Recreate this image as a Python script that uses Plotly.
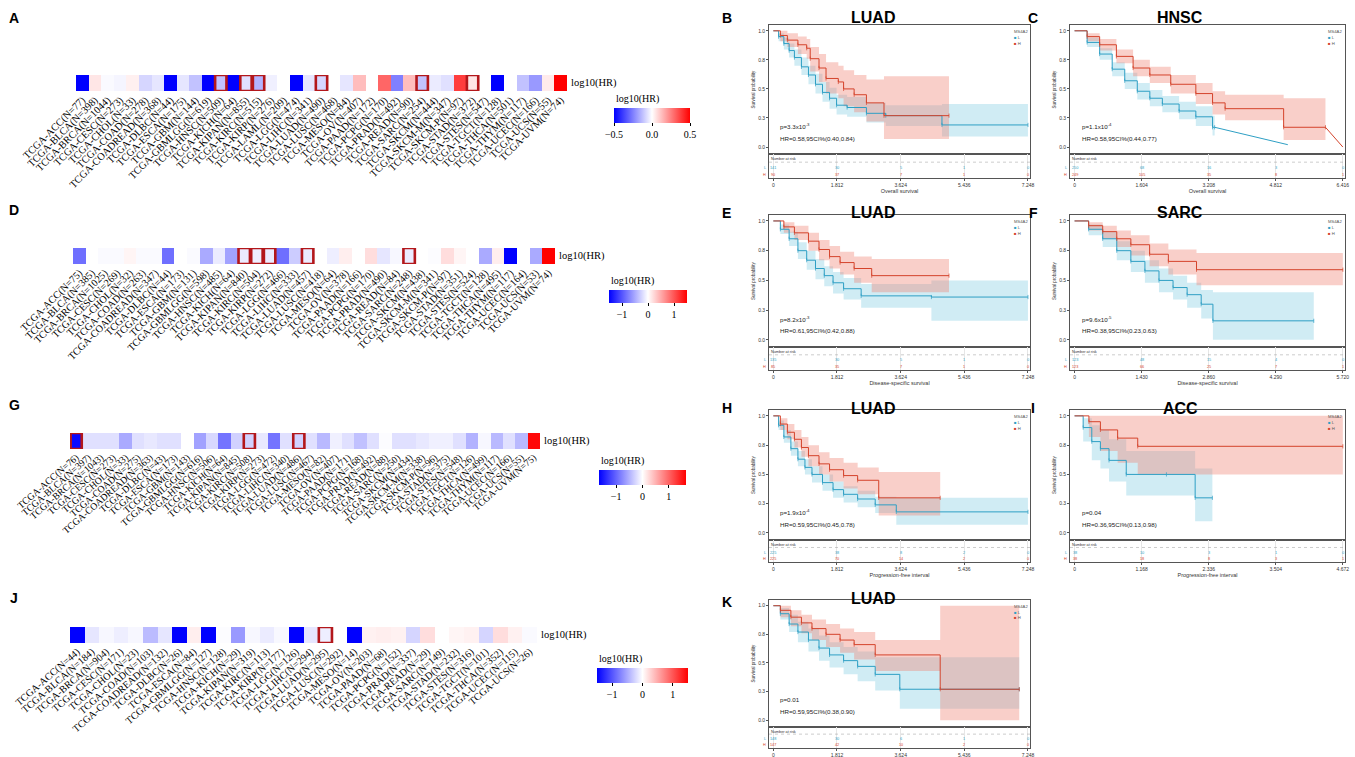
import plotly.graph_objects as go

W, H = 1355, 757

# ---------------- Heatmap data (log10 HR per cancer) ----------------
A_cancers = ["ACC","BLCA","BRCA","CESC","CHOL","COAD","COADREAD","DLBC","ESCA","GBM","GBMLGG","HNSC","KICH","KIPAN","KIRC","KIRP","LAML","LGG","LIHC","LUAD","LUSC","MESO","OV","PAAD","PCPG","PRAD","READ","SARC","SKCM","SKCM-M","SKCM-P","STAD","STES","TGCT","THCA","THYM","UCEC","UCS","UVM"]
A_n = [77,398,1044,273,33,278,368,44,175,144,619,509,64,855,515,276,209,474,341,490,468,84,407,172,170,492,90,254,444,347,97,372,547,128,501,117,166,55,74]
A_log10hr = [-0.5,0.05,-0.01,-0.02,0.03,-0.08,-0.05,-0.5,-0.05,-0.12,-0.5,-0.12,-0.5,-0.06,-0.15,-0.03,0.0,-0.5,-0.05,-0.08,0.0,-0.05,0.13,0.0,0.3,-0.25,0.13,-0.12,-0.04,-0.06,0.38,0.05,0.0,-0.5,0.0,-0.12,-0.2,0.04,0.5]
A_sig = ["HNSC","KIPAN","KIRC","LUAD","SARC","STAD"]

D_cancers = ["ACC","BLCA","BRCA","CESC","CHOL","COAD","COADREAD","DLBC","ESCA","GBM","GBMLGG","HNSC","KICH","KIPAN","KIRC","KIRP","LGG","LIHC","LUAD","LUSC","MESO","OV","PAAD","PCPG","PRAD","READ","SARC","SKCM","SKCM-M","SKCM-P","STAD","STES","TGCT","THCA","THYM","UCEC","UCS","UVM"]
D_n = [75,385,1025,269,32,263,347,44,173,131,598,485,64,840,504,272,466,333,457,418,64,378,166,170,490,84,248,438,341,97,351,524,128,495,117,164,53,74]
D_log10hr = [-0.85,0.0,-0.03,-0.03,0.06,-0.03,-0.03,-0.85,0.0,-0.03,-0.5,-0.12,-0.55,-0.12,-0.1,-0.12,-0.85,-0.3,-0.12,0.0,-0.1,0.1,0.0,0.2,-0.15,-0.05,-0.12,0.0,-0.02,0.2,0.06,0.0,-0.5,0.1,-1.5,0.0,-0.5,1.5]
D_sig = ["KIPAN","KIRC","KIRP","LUAD","SARC"]

G_cancers = list(D_cancers)
G_n = [76,397,1043,273,33,275,363,43,173,143,616,506,64,845,508,273,472,340,486,467,82,407,171,168,492,88,250,434,338,96,375,548,126,499,117,166,55,75]
G_log10hr = [-1.6,-0.2,-0.2,-0.2,-0.55,-0.2,-0.15,-0.2,-0.2,0.0,-0.6,-0.25,-0.9,-0.3,-0.3,-0.15,-0.9,-0.2,-0.3,-0.2,-0.45,-0.1,-0.2,-0.4,-0.2,-0.02,-0.2,-0.2,-0.15,-0.1,-0.1,-0.2,-0.5,-0.05,-0.45,-0.2,-0.45,1.6]
G_sig = ["ACC","KIRC","LUAD"]

J_cancers = ["ACC","BLCA","BRCA","CESC","CHOL","COAD","COADREAD","DLBC","ESCA","GBMLGG","HNSC","KICH","KIPAN","KIRC","KIRP","LGG","LIHC","LUAD","LUSC","MESO","OV","PAAD","PCPG","PRAD","READ","SARC","STAD","STES","TGCT","THCA","UCEC","UCS"]
J_n = [44,184,904,171,23,103,132,26,84,127,128,29,319,113,177,126,294,295,292,14,203,68,152,337,29,149,232,316,101,352,115,26]
J_log10hr = [-1.5,-0.15,-0.05,-0.1,-0.05,-0.4,-0.15,-1.5,0.1,-1.5,-0.02,-0.6,-0.05,-0.12,-0.04,-1.5,-0.15,-0.1,0.0,-1.5,0.08,0.1,0.08,-0.25,0.2,0.0,0.06,0.08,-0.25,0.2,0.08,-0.03]
J_sig = ["LUAD"]

# ---------------- Kaplan-Meier data (time in years) ----------------
B_L_t = [0, 0.15, 0.3, 0.45, 0.6, 0.8, 1.0, 1.2, 1.4, 1.6, 1.8, 2.1, 2.65, 3.2, 4.8, 7.248]
B_L_s = [1.0, 0.95, 0.89, 0.83, 0.77, 0.69, 0.62, 0.54, 0.47, 0.42, 0.36, 0.34, 0.29, 0.27, 0.19, 0.19]
B_L_up = [1.0, 0.98, 0.94, 0.89, 0.84, 0.77, 0.70, 0.63, 0.56, 0.51, 0.45, 0.43, 0.38, 0.36, 0.37, 0.37]
B_L_lo = [1.0, 0.91, 0.84, 0.77, 0.70, 0.62, 0.54, 0.46, 0.39, 0.33, 0.28, 0.26, 0.21, 0.18, 0.09, 0.09]
B_H_t = [0, 0.2, 0.4, 0.7, 0.95, 1.05, 1.3, 1.5, 1.85, 2.0, 2.3, 2.65, 3.15, 5.0]
B_H_s = [1.0, 0.96, 0.92, 0.88, 0.85, 0.76, 0.68, 0.59, 0.56, 0.50, 0.45, 0.38, 0.27, 0.27]
B_H_up = [1.0, 1.0, 0.98, 0.95, 0.93, 0.86, 0.80, 0.73, 0.70, 0.66, 0.62, 0.58, 0.61, 0.61]
B_H_lo = [1.0, 0.91, 0.86, 0.80, 0.76, 0.65, 0.56, 0.46, 0.42, 0.35, 0.30, 0.22, 0.07, 0.07]
B_risk_L = [141, 30, 5, 1, 0]
B_risk_H = [90, 37, 7, 1, 0]

C_L_t = [0, 0.3, 0.6, 0.9, 1.2, 1.5, 1.8, 2.1, 2.5, 2.9, 3.3, 3.35]
C_L_s = [1.0, 0.9, 0.8, 0.67, 0.57, 0.48, 0.42, 0.37, 0.31, 0.26, 0.17, 0.17]
C_L_up = [1.0, 0.94, 0.85, 0.73, 0.64, 0.55, 0.49, 0.44, 0.39, 0.35, 0.27, 0.27]
C_L_lo = [1.0, 0.86, 0.75, 0.61, 0.50, 0.41, 0.35, 0.30, 0.24, 0.18, 0.10, 0.10]
C_L_tail = [5.1, 0.02]
C_H_t = [0, 0.3, 0.6, 1.0, 1.4, 1.8, 2.3, 2.9, 3.3, 3.6, 5.0, 6.0]
C_H_s = [1.0, 0.95, 0.88, 0.78, 0.68, 0.62, 0.54, 0.46, 0.38, 0.33, 0.17, 0.17]
C_H_up = [1.0, 0.98, 0.93, 0.84, 0.75, 0.69, 0.62, 0.55, 0.48, 0.45, 0.42, 0.42]
C_H_lo = [1.0, 0.91, 0.83, 0.72, 0.61, 0.55, 0.46, 0.37, 0.28, 0.23, 0.06, 0.06]
C_H_tail = [6.416, 0.0]
C_risk_L = [250, 68, 16, 3, 0]
C_risk_H = [249, 105, 35, 8, 1]

E_L_t = [0, 0.2, 0.45, 0.7, 0.95, 1.2, 1.45, 1.7, 2.0, 2.5, 4.5, 7.248]
E_L_s = [1.0, 0.93, 0.85, 0.75, 0.67, 0.6, 0.54, 0.48, 0.43, 0.37, 0.36, 0.36]
E_L_up = [1.0, 0.97, 0.91, 0.82, 0.75, 0.68, 0.62, 0.57, 0.52, 0.47, 0.5, 0.5]
E_L_lo = [1.0, 0.89, 0.79, 0.68, 0.59, 0.51, 0.45, 0.39, 0.34, 0.27, 0.16, 0.16]
E_H_t = [0, 0.3, 0.6, 1.0, 1.3, 1.6, 1.9, 2.3, 2.8, 5.0]
E_H_s = [1.0, 0.95, 0.9, 0.83, 0.76, 0.7, 0.65, 0.6, 0.54, 0.54]
E_H_up = [1.0, 0.99, 0.96, 0.9, 0.84, 0.79, 0.74, 0.7, 0.68, 0.68]
E_H_lo = [1.0, 0.9, 0.84, 0.75, 0.67, 0.6, 0.55, 0.48, 0.4, 0.4]
E_risk_L = [135, 30, 5, 1, 0]
E_risk_H = [85, 35, 7, 1, 0]

F_L_t = [0, 0.3, 0.6, 0.9, 1.2, 1.5, 1.8, 2.1, 2.4, 2.7, 2.95, 5.1]
F_L_s = [1.0, 0.93, 0.85, 0.75, 0.66, 0.58, 0.5, 0.44, 0.38, 0.3, 0.16, 0.16]
F_L_up = [1.0, 0.97, 0.91, 0.83, 0.75, 0.67, 0.6, 0.54, 0.48, 0.42, 0.4, 0.4]
F_L_lo = [1.0, 0.88, 0.78, 0.67, 0.57, 0.48, 0.4, 0.34, 0.27, 0.18, 0.0, 0.0]
F_H_t = [0, 0.3, 0.6, 0.9, 1.2, 1.6, 2.0, 2.6, 5.72]
F_H_s = [1.0, 0.96, 0.91, 0.85, 0.8, 0.72, 0.66, 0.59, 0.59]
F_H_up = [1.0, 0.99, 0.96, 0.92, 0.88, 0.81, 0.76, 0.73, 0.73]
F_H_lo = [1.0, 0.92, 0.85, 0.78, 0.71, 0.62, 0.55, 0.46, 0.46]
F_risk_L = [123, 48, 15, 4, 0]
F_risk_H = [123, 66, 25, 7, 1]

H_L_t = [0, 0.15, 0.3, 0.5, 0.7, 0.9, 1.1, 1.4, 1.7, 2.0, 2.4, 2.9, 3.5, 7.248]
H_L_s = [1.0, 0.92, 0.82, 0.72, 0.63, 0.56, 0.5, 0.43, 0.37, 0.33, 0.29, 0.24, 0.18, 0.18]
H_L_up = [1.0, 0.96, 0.88, 0.78, 0.7, 0.63, 0.57, 0.5, 0.44, 0.4, 0.36, 0.31, 0.3, 0.3]
H_L_lo = [1.0, 0.88, 0.77, 0.66, 0.57, 0.5, 0.43, 0.36, 0.3, 0.26, 0.22, 0.17, 0.07, 0.07]
H_H_t = [0, 0.2, 0.4, 0.6, 0.8, 1.0, 1.3, 1.6, 2.0, 2.4, 3.0, 4.75]
H_H_s = [1.0, 0.93, 0.86, 0.8, 0.73, 0.66, 0.59, 0.54, 0.49, 0.45, 0.3, 0.3]
H_H_up = [1.0, 0.98, 0.93, 0.88, 0.82, 0.75, 0.69, 0.64, 0.6, 0.56, 0.52, 0.52]
H_H_lo = [1.0, 0.88, 0.8, 0.73, 0.65, 0.57, 0.5, 0.44, 0.38, 0.33, 0.15, 0.15]
H_risk_L = [225, 38, 8, 2, 0]
H_risk_H = [225, 70, 14, 2, 0]

I_L_t = [0, 0.15, 0.3, 0.45, 0.6, 0.9, 1.6, 2.1, 2.4]
I_L_s = [1.0, 0.9, 0.78, 0.72, 0.62, 0.5, 0.5, 0.3, 0.3]
I_L_up = [1.0, 0.98, 0.92, 0.88, 0.8, 0.7, 0.7, 0.55, 0.55]
I_L_lo = [1.0, 0.78, 0.62, 0.55, 0.44, 0.32, 0.32, 0.1, 0.1]
I_H_t = [0, 0.25, 0.45, 0.75, 1.1, 4.672]
I_H_s = [1.0, 0.95, 0.88, 0.81, 0.74, 0.74]
I_H_up = [1.0, 1.0, 1.0, 1.0, 1.0, 1.0]
I_H_lo = [1.0, 0.82, 0.7, 0.6, 0.5, 0.5]
I_risk_L = [38, 10, 3, 1, 0]
I_risk_H = [38, 18, 8, 3, 1]

K_L_t = [0, 0.2, 0.45, 0.7, 1.0, 1.3, 1.6, 2.0, 2.4, 2.9, 3.6, 7.0]
K_L_s = [1.0, 0.93, 0.84, 0.77, 0.7, 0.63, 0.57, 0.52, 0.47, 0.4, 0.27, 0.27]
K_L_up = [1.0, 0.98, 0.92, 0.86, 0.8, 0.74, 0.68, 0.64, 0.6, 0.55, 0.55, 0.55]
K_L_lo = [1.0, 0.88, 0.77, 0.68, 0.6, 0.52, 0.46, 0.4, 0.34, 0.26, 0.1, 0.1]
K_H_t = [0, 0.2, 0.5, 0.8, 1.1, 1.5, 1.9, 2.3, 2.9, 4.75, 7.0]
K_H_s = [1.0, 0.96, 0.9, 0.85, 0.8, 0.75, 0.7, 0.66, 0.57, 0.27, 0.27]
K_H_up = [1.0, 1.0, 0.96, 0.92, 0.88, 0.84, 0.8, 0.77, 0.7, 1.0, 1.0]
K_H_lo = [1.0, 0.9, 0.82, 0.76, 0.7, 0.64, 0.59, 0.53, 0.43, 0.0, 0.0]
K_risk_L = [148, 30, 6, 1, 0]
K_risk_H = [147, 42, 10, 2, 0]

# ---------------- helpers ----------------
def px(x):
    return x / W

def py(y):
    return 1 - y / H

SERIF = "Liberation Serif"
SANS = "Liberation Sans"
COLORSCALE = [[0, "rgb(0,0,255)"], [0.5, "rgb(255,255,255)"], [1, "rgb(255,0,0)"]]
BOX = "#B3171B"
BLUE = "#2E9FC4"
RED = "#D4432B"
BLUE_FILL = "rgba(110,195,222,0.32)"
RED_FILL = "rgba(238,130,112,0.38)"

fig = go.Figure()
layout = dict(template="none", width=W, height=H, margin=dict(l=0, r=0, t=0, b=0, pad=0),
              paper_bgcolor="white", plot_bgcolor="white", showlegend=False,
              font=dict(family=SANS))
annotations = []
shapes = []

heat_panels = [
    (A_cancers, A_n, A_log10hr, A_sig, 0.5, (76, 567, 75, 91), (614, 690, 108, 123), [-0.5, 0, 0.5], ".1f", -45, 10.3),
    (D_cancers, D_n, D_log10hr, D_sig, 1.5, (73, 555, 248, 264), (609, 687, 290, 303), [-1, 0, 1], "d", -45, 10.2),
    (G_cancers, G_n, G_log10hr, G_sig, 1.65, (70, 540, 433, 449), (599, 686, 470, 485), [-1, 0, 1], "d", -41, 9.6),
    (J_cancers, J_n, J_log10hr, J_sig, 1.5, (70, 537, 627, 643), (597, 688, 668, 683), [-1, 0, 1], "d", -41, 10.1),
]

for k, (canc, ns, vals, sig, zmax, box, cb, tv, tf, ang, fs) in enumerate(heat_panels, start=1):
    xa = "x" if k == 1 else f"x{k}"
    ya = "y" if k == 1 else f"y{k}"
    ca = "coloraxis" if k == 1 else f"coloraxis{k}"
    labels = [f"TCGA-{c}(N={n})" for c, n in zip(canc, ns)]
    idx = list(range(len(canc)))
    fig.add_trace(go.Heatmap(z=[vals], x=idx, y=[0], coloraxis=ca, xaxis=xa, yaxis=ya,
                             hovertext=[labels], hoverinfo="text+z"))
    x0, x1, y0, y1 = box
    layout["xaxis" if k == 1 else f"xaxis{k}"] = dict(
        domain=[px(x0), px(x1)], anchor=ya, range=[-0.5, len(canc) - 0.5], automargin=False,
        tickmode="array", tickvals=idx, ticktext=labels, tickangle=ang,
        tickfont=dict(family=SERIF, size=fs, color="black"), ticks="",
        showgrid=False, zeroline=False, showline=False)
    layout["yaxis" if k == 1 else f"yaxis{k}"] = dict(
        domain=[py(y1), py(y0)], anchor=xa, range=[-0.5, 0.5], visible=False, automargin=False)
    cx0, cx1, cy0, cy1 = cb
    layout[ca] = dict(
        colorscale=COLORSCALE, cmin=-zmax, cmax=zmax,
        colorbar=dict(orientation="h", x=px((cx0 + cx1) / 2), xanchor="center",
                      y=py(cy0), yanchor="top", len=cx1 - cx0, lenmode="pixels",
                      thickness=cy1 - cy0, thicknessmode="pixels", xpad=0, ypad=0,
                      outlinewidth=0, tickmode="array", tickvals=tv, tickformat=tf,
                      ticks="outside", ticklen=3, tickcolor="black",
                      tickfont=dict(family=SERIF, size=10, color="black")))
    annotations.append(dict(text="log10(HR)", x=px(cx0), y=py(cy0 - 1), xref="paper", yref="paper",
                            xanchor="left", yanchor="bottom", showarrow=False,
                            font=dict(family=SERIF, size=10, color="black")))
    annotations.append(dict(text="log10(HR)", x=len(canc) - 0.5, y=0, xref=xa, yref=ya,
                            xanchor="left", yanchor="middle", xshift=2, showarrow=False,
                            font=dict(family=SERIF, size=10.5, color="black")))
    for c in sig:
        i = canc.index(c)
        shapes.append(dict(type="rect", xref=xa, yref=ya, x0=i - 0.45, x1=i + 0.45,
                           y0=-0.5, y1=0.5, line=dict(color=BOX, width=2.6)))

# ---------------- KM panels ----------------
km_panels = [
    dict(title="LUAD", tx=873, ty=18, frame=(769, 1030, 25, 154), tb=178, xmax=7.248,
         xlabel="Overall survival",
         L=(B_L_t, B_L_s, B_L_up, B_L_lo, None), Hh=(B_H_t, B_H_s, B_H_up, B_H_lo, None),
         p="p=3.3x10<sup>-3</sup>", hr="HR=0.58,95CI%(0.40,0.84)", rL=B_risk_L, rH=B_risk_H),
    dict(title="HNSC", tx=1180, ty=18, frame=(1070, 1345, 25, 154), tb=178, xmax=6.416,
         xlabel="Overall survival",
         L=(C_L_t, C_L_s, C_L_up, C_L_lo, C_L_tail), Hh=(C_H_t, C_H_s, C_H_up, C_H_lo, C_H_tail),
         p="p=1.1x10<sup>-4</sup>", hr="HR=0.58,95CI%(0.44,0.77)", rL=C_risk_L, rH=C_risk_H),
    dict(title="LUAD", tx=873, ty=213, frame=(769, 1030, 215, 347), tb=370, xmax=7.248,
         xlabel="Disease-specific survival",
         L=(E_L_t, E_L_s, E_L_up, E_L_lo, None), Hh=(E_H_t, E_H_s, E_H_up, E_H_lo, None),
         p="p=8.2x10<sup>-3</sup>", hr="HR=0.61,95CI%(0.42,0.88)", rL=E_risk_L, rH=E_risk_H),
    dict(title="SARC", tx=1180, ty=213, frame=(1070, 1345, 215, 347), tb=370, xmax=5.72,
         xlabel="Disease-specific survival",
         L=(F_L_t, F_L_s, F_L_up, F_L_lo, None), Hh=(F_H_t, F_H_s, F_H_up, F_H_lo, None),
         p="p=9.6x10<sup>-5</sup>", hr="HR=0.38,95CI%(0.23,0.63)", rL=F_risk_L, rH=F_risk_H),
    dict(title="LUAD", tx=873, ty=408, frame=(769, 1030, 410, 540), tb=562, xmax=7.248,
         xlabel="Progression-free interval",
         L=(H_L_t, H_L_s, H_L_up, H_L_lo, None), Hh=(H_H_t, H_H_s, H_H_up, H_H_lo, None),
         p="p=1.9x10<sup>-4</sup>", hr="HR=0.59,95CI%(0.45,0.78)", rL=H_risk_L, rH=H_risk_H),
    dict(title="ACC", tx=1180, ty=408, frame=(1070, 1345, 410, 540), tb=562, xmax=4.672,
         xlabel="Progression-free interval",
         L=(I_L_t, I_L_s, I_L_up, I_L_lo, None), Hh=(I_H_t, I_H_s, I_H_up, I_H_lo, None),
         p="p=0.04", hr="HR=0.36,95CI%(0.13,0.98)", rL=I_risk_L, rH=I_risk_H),
    dict(title="LUAD", tx=873, ty=598, frame=(769, 1030, 600, 727), tb=748, xmax=7.248,
         xlabel="",
         L=(K_L_t, K_L_s, K_L_up, K_L_lo, None), Hh=(K_H_t, K_H_s, K_H_up, K_H_lo, None),
         p="p=0.01", hr="HR=0.59,95CI%(0.38,0.90)", rL=K_risk_L, rH=K_risk_H),
]

for j, sp in enumerate(km_panels):
    km = 5 + 2 * j
    tb = km + 1
    xa, ya, xt, yt = f"x{km}", f"y{km}", f"x{tb}", f"y{tb}"
    x0, x1, y0, y1 = sp["frame"]
    xmax = sp["xmax"]
    xr = [-0.017 * xmax, 1.008 * xmax]
    step = xmax / 4
    tvals = [step * i for i in range(5)]
    ttext = ["0"] + [f"{v:.3f}" for v in tvals[1:]]
    for (t, s, up, lo, tail), fillc in ((sp["L"], BLUE_FILL), (sp["Hh"], RED_FILL)):
        fig.add_trace(go.Scatter(x=t, y=lo, mode="lines", line=dict(shape="hv", width=0),
                                 xaxis=xa, yaxis=ya, hoverinfo="skip"))
        fig.add_trace(go.Scatter(x=t, y=up, mode="lines", line=dict(shape="hv", width=0),
                                 fill="tonexty", fillcolor=fillc, xaxis=xa, yaxis=ya, hoverinfo="skip"))
    for (t, s, up, lo, tail), col in ((sp["L"], BLUE), (sp["Hh"], RED)):
        fig.add_trace(go.Scatter(x=t, y=s, mode="lines", line=dict(shape="hv", width=1, color=col),
                                 xaxis=xa, yaxis=ya))
        if tail is not None:
            fig.add_trace(go.Scatter(x=[t[-1], tail[0]], y=[s[-1], tail[1]], mode="lines",
                                     line=dict(width=1, color=col), xaxis=xa, yaxis=ya))
        fig.add_trace(go.Scatter(x=t[1:], y=s[1:], mode="markers",
                                 marker=dict(symbol="line-ns-open", size=3, color=col,
                                             line=dict(width=0.7, color=col)),
                                 xaxis=xa, yaxis=ya))
    layout[f"xaxis{km}"] = dict(domain=[px(x0), px(x1)], anchor=ya, range=xr, showticklabels=False,
                                ticks="", showgrid=False, zeroline=False, showline=True, mirror=True,
                                linecolor="#555", linewidth=0.8, automargin=False)
    layout[f"yaxis{km}"] = dict(domain=[py(y1), py(y0)], anchor=xa, range=[-0.06, 1.05],
                                tickmode="array", tickvals=[0, 0.25, 0.5, 0.75, 1.0],
                                ticktext=["0.0", "0.3", "0.5", "0.8", "1.0"],
                                tickfont=dict(family=SANS, size=5, color="#333"), ticks="outside",
                                ticklen=2, tickcolor="#555", showgrid=False, zeroline=False,
                                showline=True, mirror=True, linecolor="#555", linewidth=0.8,
                                automargin=False,
                                title=dict(text="Survival probability",
                                           font=dict(family=SANS, size=4.5, color="#333"), standoff=2))
    xt_layout = dict(domain=[px(x0), px(x1)], anchor=yt, range=xr, tickmode="array",
                     tickvals=tvals, ticktext=ttext, tickfont=dict(family=SANS, size=5, color="#333"),
                     ticks="outside", ticklen=2, tickcolor="#555", showgrid=True,
                     gridcolor="#e6e6e6", gridwidth=0.5, zeroline=False, showline=True,
                     mirror=True, linecolor="#555", linewidth=0.8, automargin=False)
    if sp["xlabel"]:
        xt_layout["title"] = dict(text=sp["xlabel"], font=dict(family=SANS, size=5.5, color="#333"),
                                  standoff=0)
    layout[f"xaxis{tb}"] = xt_layout
    layout[f"yaxis{tb}"] = dict(domain=[py(sp["tb"]), py(y1)], anchor=xt, range=[0, 1],
                                showticklabels=False, ticks="", showgrid=False, zeroline=False,
                                showline=True, mirror=True, linecolor="#555", linewidth=0.8,
                                automargin=False)
    annotations.append(dict(text="Number at risk", x=xr[0], y=0.97, xref=xt, yref=yt, xanchor="left",
                            yanchor="top", showarrow=False, font=dict(family=SANS, size=3.8, color="#333")))
    shapes.append(dict(type="line", xref=f"{xt} domain", yref=yt, x0=0, x1=1, y0=0.66, y1=0.66,
                       line=dict(color="#999", width=0.5, dash="dot")))
    for lab, vals, col, yy in (("L", sp["rL"], BLUE, 0.42), ("H", sp["rH"], RED, 0.14)):
        annotations.append(dict(text=lab, x=xr[0], y=yy, xref=xt, yref=yt, xanchor="right", xshift=-1,
                                showarrow=False, font=dict(family=SANS, size=3.8, color=col)))
        for tv_, v in zip(tvals, vals):
            annotations.append(dict(text=str(v), x=tv_, y=yy, xref=xt, yref=yt, xanchor="center",
                                    showarrow=False, font=dict(family=SANS, size=3.8, color=col)))
    annotations.append(dict(text=sp["p"], x=0.035, y=0.17, xref=f"{xa} domain", yref=f"{ya} domain",
                            xanchor="left", yanchor="bottom", showarrow=False,
                            font=dict(family=SANS, size=6.2, color="#222")))
    annotations.append(dict(text=sp["hr"], x=0.035, y=0.08, xref=f"{xa} domain", yref=f"{ya} domain",
                            xanchor="left", yanchor="bottom", showarrow=False,
                            font=dict(family=SANS, size=6.2, color="#222")))
    annotations.append(dict(text="MS4A2", x=0.93, y=0.985, xref=f"{xa} domain", yref=f"{ya} domain",
                            xanchor="left", yanchor="top", showarrow=False,
                            font=dict(family=SANS, size=4.2, color="#555")))
    for lab, col, yy in (("L", BLUE, 0.94), ("H", RED, 0.895)):
        annotations.append(dict(text=f"<span style='color:{col}'>■</span> {lab}", x=0.93, y=yy,
                                xref=f"{xa} domain", yref=f"{ya} domain", xanchor="left", yanchor="top",
                                showarrow=False, font=dict(family=SANS, size=4.2, color="#555")))
    annotations.append(dict(text=f"<b>{sp['title']}</b>", x=px(sp["tx"]), y=py(sp["ty"]), xref="paper",
                            yref="paper", xanchor="center", yanchor="middle", showarrow=False,
                            font=dict(family=SANS, size=16, color="black")))

letters = ["A", "B", "C", "D", "E", "F", "G", "H", "I", "J", "K"]
letter_pos = [(14, 18), (727, 18), (1033, 18), (14, 210), (727, 213), (1033, 213),
              (14, 405), (727, 408), (1033, 408), (14, 598), (727, 602)]
for L_, (lx, ly) in zip(letters, letter_pos):
    annotations.append(dict(text=f"<b>{L_}</b>", x=px(lx), y=py(ly), xref="paper", yref="paper",
                            xanchor="center", yanchor="middle", showarrow=False,
                            font=dict(family=SANS, size=14, color="black")))

layout["annotations"] = annotations
layout["shapes"] = shapes
fig.update_layout(**layout)
fig.write_html("out.html", config={"displayModeBar": False},
               post_script="document.body.style.margin='0px';")
